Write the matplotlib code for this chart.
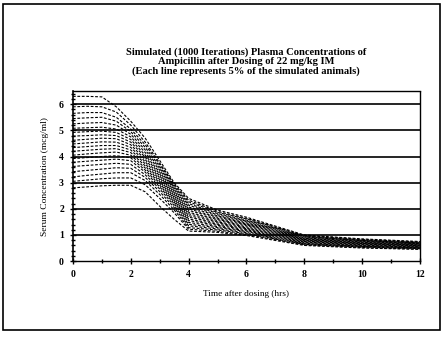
import numpy as np
import matplotlib
matplotlib.use("Agg")
import matplotlib.pyplot as plt
from matplotlib.ticker import MultipleLocator

# time points (hrs) at which each percentile line was read
times = [0, 0.5, 1, 1.5, 2, 2.5, 3, 3.5, 4, 5, 6, 8, 10, 12]

# 20 lines, each = 5% of simulated animals (mcg/ml), top to bottom
lines = [
    [6.30, 6.30, 6.28, 5.90, 5.35, 4.70, 3.85, 3.00, 2.40, 1.95, 1.68, 1.00, 0.85, 0.75],
    [5.90, 5.92, 5.90, 5.70, 5.20, 4.55, 3.75, 2.95, 2.33, 1.90, 1.64, 0.98, 0.83, 0.73],
    [5.65, 5.68, 5.68, 5.50, 5.05, 4.45, 3.70, 2.90, 2.27, 1.86, 1.61, 0.96, 0.81, 0.72],
    [5.45, 5.48, 5.50, 5.35, 4.95, 4.35, 3.62, 2.85, 2.20, 1.82, 1.57, 0.94, 0.79, 0.70],
    [5.25, 5.28, 5.30, 5.20, 4.85, 4.25, 3.55, 2.80, 2.14, 1.77, 1.53, 0.92, 0.78, 0.69],
    [5.08, 5.10, 5.12, 5.05, 4.75, 4.15, 3.48, 2.74, 2.07, 1.73, 1.50, 0.89, 0.76, 0.67],
    [4.92, 4.95, 4.97, 4.92, 4.65, 4.05, 3.40, 2.68, 2.00, 1.68, 1.46, 0.87, 0.74, 0.66],
    [4.78, 4.80, 4.83, 4.80, 4.55, 3.97, 3.33, 2.62, 1.94, 1.64, 1.42, 0.85, 0.72, 0.64],
    [4.62, 4.66, 4.70, 4.68, 4.45, 3.88, 3.26, 2.56, 1.87, 1.59, 1.39, 0.83, 0.70, 0.62],
    [4.48, 4.52, 4.56, 4.55, 4.35, 3.80, 3.19, 2.50, 1.81, 1.55, 1.35, 0.81, 0.68, 0.61],
    [4.34, 4.38, 4.42, 4.42, 4.25, 3.72, 3.12, 2.44, 1.74, 1.50, 1.31, 0.79, 0.67, 0.59],
    [4.20, 4.24, 4.28, 4.30, 4.15, 3.64, 3.05, 2.38, 1.68, 1.46, 1.27, 0.77, 0.65, 0.58],
    [4.05, 4.10, 4.14, 4.17, 4.05, 3.56, 2.98, 2.32, 1.61, 1.41, 1.24, 0.75, 0.63, 0.56],
    [3.92, 3.96, 4.00, 4.03, 3.95, 3.48, 2.91, 2.26, 1.55, 1.37, 1.20, 0.73, 0.61, 0.54],
    [3.78, 3.82, 3.86, 3.90, 3.84, 3.40, 2.84, 2.20, 1.48, 1.32, 1.16, 0.71, 0.59, 0.53],
    [3.62, 3.66, 3.70, 3.74, 3.70, 3.30, 2.76, 2.13, 1.41, 1.28, 1.13, 0.68, 0.57, 0.51],
    [3.42, 3.47, 3.52, 3.57, 3.55, 3.20, 2.66, 2.05, 1.35, 1.23, 1.09, 0.66, 0.56, 0.50],
    [3.22, 3.28, 3.33, 3.38, 3.38, 3.08, 2.55, 1.96, 1.28, 1.19, 1.05, 0.64, 0.54, 0.48],
    [3.05, 3.10, 3.15, 3.18, 3.18, 2.92, 2.40, 1.85, 1.22, 1.14, 1.02, 0.62, 0.52, 0.46],
    [2.80, 2.84, 2.88, 2.90, 2.90, 2.65, 2.10, 1.60, 1.15, 1.10, 0.98, 0.60, 0.50, 0.45],
]

title_lines = ["Simulated (1000 Iterations) Plasma Concentrations of",
               "Ampicillin after Dosing of 22 mg/kg IM",
               "(Each line represents 5% of the simulated animals)"]

plt.rcParams['font.family'] = ['Liberation Serif', 'DejaVu Serif']

fig = plt.figure(figsize=(4.42, 3.40), dpi=100)
ax = fig.add_axes([0.165, 0.232, 0.785, 0.5])

# outer frame of the page
fig.patches.append(plt.Rectangle((0.007, 0.03), 0.988, 0.958, transform=fig.transFigure,
                                 fill=False, ec='black', lw=1.2))

for y in range(1, 7):
    ax.axhline(y, color='black', lw=1.2, zorder=1)

for vals in lines:
    ax.plot(times, vals, color='black', lw=0.8, linestyle=(0, (2.5, 1.5)), zorder=2)

ax.set_xlim(0, 12)
ax.set_ylim(0, 6.5)
ax.xaxis.set_major_locator(MultipleLocator(2))
ax.xaxis.set_minor_locator(MultipleLocator(1))
ax.yaxis.set_major_locator(MultipleLocator(1))
ax.yaxis.set_minor_locator(MultipleLocator(0.2))
ax.tick_params(which='both', direction='inout', width=1, labelsize=7, pad=4)
ax.tick_params(which='major', length=5)
ax.tick_params(which='minor', length=3)
for lab in ax.get_xticklabels() + ax.get_yticklabels():
    lab.set_fontweight('bold')

ax.spines['left'].set_linewidth(1.2)
for s in ['top', 'right', 'bottom']:
    ax.spines[s].set_linestyle((0, (2, 1)))
    ax.spines[s].set_linewidth(1.0)

ax.set_xlabel("Time after dosing (hrs)", fontsize=6.7, labelpad=8)
ax.set_ylabel("Serum Concentration (mcg/ml)", fontsize=6.8, labelpad=7)
for k, txt in enumerate(title_lines):
    fig.text(0.556, 1 - (52 + 9.7 * k) / 340, txt, ha='center', va='center',
             fontsize=7.6, fontweight='bold')

fig.savefig('out.png', dpi=100)
